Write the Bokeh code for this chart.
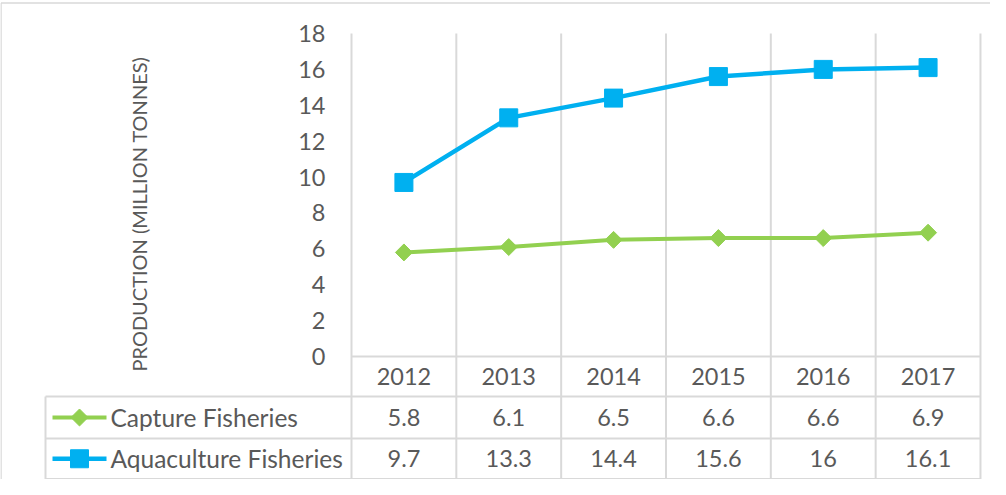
import numpy as np
from bokeh.plotting import figure
from bokeh.models import Range1d, LinearAxis, FixedTicker, ColumnDataSource
from bokeh.core.properties import value
from bokeh.embed import file_html
from bokeh.resources import INLINE

# ---- data ----
years = ["2012", "2013", "2014", "2015", "2016", "2017"]
capture = [5.8, 6.1, 6.5, 6.6, 6.6, 6.9]
aquaculture = [9.7, 13.3, 14.4, 15.6, 16, 16.1]
series_names = ["Capture Fisheries", "Aquaculture Fisheries"]
y_ticks = [0, 2, 4, 6, 8, 10, 12, 14, 16, 18]
y_title = "PRODUCTION (MILLION TONNES)"

# ---- layout constants (reference pixel geometry) ----
W, H = 990, 479
OFF = 8                      # page margin
X0_PX, COL_PX = 359.0, 104.83  # left edge of first category, column width
Y0_PX, UNIT_PX = 364.0, 17.944  # y=0 position, px per unit
FONT = "Lato"
TXT = "#595959"
GRID = "#D9D9D9"
BLUE = "#00B0F0"
GREEN = "#92D050"
FS_NUM = "23.5px"
FS_NAME = "24.5px"

def px_x(px):
    return (px - X0_PX) / COL_PX

def px_y(py):
    return (Y0_PX - py) / UNIT_PX

x_range = Range1d(px_x(OFF), px_x(OFF + W))
y_range = Range1d(px_y(OFF + H), px_y(OFF))

p = figure(width=W, height=H, x_range=x_range, y_range=y_range,
           output_backend="svg", toolbar_location=None,
           x_axis_location=None, y_axis_location=None,
           min_border=0, min_border_left=0, min_border_right=0,
           min_border_top=0, min_border_bottom=0)
p.outline_line_color = None
p.grid.visible = False
p.background_fill_color = "white"
p.border_fill_color = "white"

n = len(years)
xc = np.arange(n) + 0.5

# table row geometry
r_hdr_bot = px_y(404)
r1_bot = px_y(446)
r2_bot = px_y(486.5)
tab_left = px_x(53)
y_top = max(y_ticks)

# outer chart border
p.segment(x0=[px_x(8.5), px_x(8.5)], y0=[px_y(10.5), px_y(10.5)],
          x1=[px_x(8.5), px_x(OFF + W)], y1=[px_y(OFF + H), px_y(10.5)],
          line_color=GRID, line_width=1.5)

# vertical gridlines / table columns
vx = list(np.arange(n + 1))
p.segment(x0=vx, y0=[y_top] * (n + 1), x1=vx, y1=[r2_bot] * (n + 1),
          line_color=GRID, line_width=2)
p.segment(x0=[tab_left], y0=[r_hdr_bot], x1=[tab_left], y1=[r2_bot],
          line_color=GRID, line_width=2)
# horizontal table lines
p.segment(x0=[0, tab_left, tab_left, tab_left], y0=[0, r_hdr_bot, r1_bot, r2_bot],
          x1=[n] * 4, y1=[0, r_hdr_bot, r1_bot, r2_bot],
          line_color=GRID, line_width=2)

# y axis (fixed at x=0)
yax = LinearAxis(fixed_location=0, ticker=FixedTicker(ticks=y_ticks))
yax.axis_line_color = None
yax.major_tick_line_color = None
yax.minor_tick_line_color = None
yax.major_tick_out = 0
yax.major_tick_in = 0
yax.major_label_standoff = 26
yax.major_label_text_font = FONT
yax.major_label_text_font_size = FS_NUM
yax.major_label_text_color = TXT
p.add_layout(yax, "left")

# y title
p.text(x=[px_x(146)], y=[px_y(221.5)], text=[y_title], angle=np.pi / 2,
       text_align="center", text_baseline="middle",
       text_font=value(FONT), text_font_size="20px", text_color=TXT)

# series lines
src = ColumnDataSource(dict(x=xc, cap=capture, aq=aquaculture))
p.line("x", "cap", source=src, line_color=GREEN, line_width=4)
p.scatter("x", "cap", source=src, marker="square", angle=np.pi / 4, size=12,
          fill_color=GREEN, line_color=GREEN)
p.line("x", "aq", source=src, line_color=BLUE, line_width=4.5)
p.scatter("x", "aq", source=src, marker="square", size=18,
          fill_color=BLUE, line_color=BLUE)

# table text
hdr_y = (0 + r_hdr_bot) / 2
r1_y = (r_hdr_bot + r1_bot) / 2
r2_y = (r1_bot + r2_bot) / 2
p.text(x=xc, y=[hdr_y] * n, text=years, text_align="center", text_baseline="middle",
       text_font=value(FONT), text_font_size=FS_NUM, text_color=TXT)
p.text(x=xc, y=[r1_y] * n, text=[f"{v:g}" for v in capture], text_align="center",
       text_baseline="middle", text_font=value(FONT), text_font_size=FS_NUM, text_color=TXT)
p.text(x=xc, y=[r2_y] * n, text=[f"{v:g}" for v in aquaculture], text_align="center",
       text_baseline="middle", text_font=value(FONT), text_font_size=FS_NUM, text_color=TXT)

# legend keys in table
lx0, lx1, lxm = px_x(60), px_x(114), px_x(87)
p.segment(x0=[lx0], y0=[r1_y], x1=[lx1], y1=[r1_y], line_color=GREEN, line_width=4)
p.scatter(x=[lxm], y=[r1_y], marker="square", angle=np.pi / 4, size=12,
          fill_color=GREEN, line_color=GREEN)
p.segment(x0=[lx0], y0=[r2_y], x1=[lx1], y1=[r2_y], line_color=BLUE, line_width=4.5)
p.scatter(x=[lxm], y=[r2_y], marker="square", size=18, fill_color=BLUE, line_color=BLUE)
p.text(x=[px_x(118)] * 2, y=[r1_y, r2_y], text=series_names, text_align="left",
       text_baseline="middle", text_font=value(FONT), text_font_size=FS_NAME, text_color=TXT)

open("out.html", "w").write(file_html(p, INLINE))
